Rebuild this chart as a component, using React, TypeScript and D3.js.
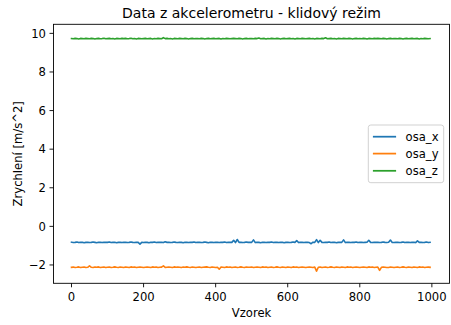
import React from "react";
import * as d3 from "d3";

const sampleStep = 5;

const osaX = [
  -0.82,-0.84,-0.83,-0.81,-0.84,-0.83,-0.82,-0.85,-0.83,-0.82,
  -0.84,-0.83,-0.81,-0.83,-0.85,-0.82,-0.83,-0.84,-0.82,-0.83,
  -0.83,-0.81,-0.84,-0.83,-0.82,-0.85,-0.83,-0.82,-0.84,-0.83,
  -0.82,-0.84,-0.83,-0.81,-0.83,-0.84,-0.82,-0.83,-0.92,-0.83,
  -0.84,-0.82,-0.83,-0.85,-0.82,-0.83,-0.81,-0.84,-0.83,-0.82,
  -0.83,-0.84,-0.80,-0.83,-0.82,-0.84,-0.83,-0.81,-0.83,-0.84,
  -0.82,-0.83,-0.85,-0.82,-0.83,-0.84,-0.82,-0.83,-0.81,-0.84,
  -0.83,-0.82,-0.84,-0.83,-0.81,-0.83,-0.85,-0.82,-0.83,-0.84,
  -0.82,-0.83,-0.84,-0.82,-0.83,-0.81,-0.84,-0.83,-0.82,-0.83,
  -0.72,-0.84,-0.68,-0.83,-0.82,-0.84,-0.83,-0.81,-0.83,-0.82,
  -0.83,-0.70,-0.84,-0.82,-0.83,-0.85,-0.82,-0.83,-0.84,-0.82,
  -0.83,-0.81,-0.84,-0.83,-0.82,-0.84,-0.83,-0.82,-0.85,-0.83,
  -0.82,-0.84,-0.83,-0.81,-0.83,-0.74,-0.84,-0.82,-0.83,-0.84,
  -0.83,-0.82,-0.84,-0.90,-0.82,-0.83,-0.69,-0.84,-0.72,-0.83,
  -0.84,-0.82,-0.83,-0.81,-0.84,-0.83,-0.82,-0.85,-0.83,-0.82,
  -0.83,-0.70,-0.84,-0.82,-0.83,-0.84,-0.82,-0.83,-0.81,-0.84,
  -0.83,-0.82,-0.84,-0.83,-0.82,-0.72,-0.83,-0.84,-0.82,-0.83,
  -0.82,-0.84,-0.83,-0.81,-0.83,-0.84,-0.82,-0.71,-0.83,-0.84,
  -0.83,-0.82,-0.84,-0.83,-0.81,-0.84,-0.83,-0.82,-0.84,-0.83,
  -0.82,-0.84,-0.75,-0.83,-0.82,-0.84,-0.83,-0.81,-0.84,-0.83,
];

const osaY = [
  -2.12,-2.11,-2.13,-2.12,-2.10,-2.13,-2.12,-2.11,-2.13,-2.12,
  -2.04,-2.12,-2.13,-2.11,-2.12,-2.10,-2.13,-2.12,-2.11,-2.13,
  -2.12,-2.11,-2.13,-2.12,-2.10,-2.12,-2.13,-2.11,-2.12,-2.13,
  -2.11,-2.12,-2.13,-2.10,-2.12,-2.11,-2.13,-2.12,-2.11,-2.12,
  -2.13,-2.12,-2.11,-2.12,-2.13,-2.10,-2.12,-2.11,-2.13,-2.12,
  -2.11,-2.05,-2.13,-2.12,-2.11,-2.12,-2.13,-2.10,-2.12,-2.11,
  -2.12,-2.13,-2.11,-2.12,-2.10,-2.12,-2.13,-2.11,-2.12,-2.13,
  -2.12,-2.11,-2.13,-2.12,-2.11,-2.10,-2.12,-2.13,-2.11,-2.12,
  -2.13,-2.12,-2.22,-2.11,-2.12,-2.13,-2.10,-2.12,-2.11,-2.13,
  -2.12,-2.11,-2.13,-2.12,-2.10,-2.12,-2.13,-2.11,-2.12,-2.12,
  -2.11,-2.13,-2.12,-2.11,-2.12,-2.13,-2.10,-2.12,-2.11,-2.13,
  -2.12,-2.11,-2.13,-2.12,-2.10,-2.12,-2.13,-2.11,-2.12,-2.13,
  -2.11,-2.12,-2.13,-2.10,-2.12,-2.11,-2.13,-2.12,-2.11,-2.12,
  -2.13,-2.12,-2.11,-2.12,-2.13,-2.11,-2.32,-2.12,-2.11,-2.13,
  -2.12,-2.11,-2.13,-2.12,-2.10,-2.12,-2.13,-2.11,-2.12,-2.13,
  -2.11,-2.12,-2.13,-2.10,-2.12,-2.11,-2.13,-2.12,-2.11,-2.12,
  -2.13,-2.12,-2.11,-2.12,-2.13,-2.10,-2.12,-2.11,-2.13,-2.12,
  -2.11,-2.28,-2.12,-2.11,-2.12,-2.13,-2.13,-2.11,-2.12,-2.13,
  -2.12,-2.11,-2.13,-2.12,-2.10,-2.12,-2.13,-2.11,-2.12,-2.13,
  -2.11,-2.12,-2.13,-2.10,-2.12,-2.11,-2.13,-2.12,-2.11,-2.12,
];

const osaZ = [
  9.73,9.72,9.74,9.73,9.71,9.74,9.73,9.72,9.74,9.73,
  9.72,9.74,9.73,9.71,9.73,9.74,9.72,9.73,9.75,9.72,
  9.73,9.74,9.72,9.73,9.71,9.74,9.73,9.72,9.74,9.73,
  9.74,9.72,9.73,9.75,9.72,9.73,9.71,9.74,9.73,9.72,
  9.73,9.74,9.72,9.73,9.74,9.71,9.73,9.72,9.74,9.73,
  9.72,9.78,9.73,9.74,9.72,9.73,9.71,9.74,9.73,9.72,
  9.74,9.73,9.72,9.74,9.73,9.71,9.73,9.74,9.72,9.73,
  9.73,9.72,9.74,9.73,9.71,9.73,9.74,9.72,9.73,9.74,
  9.72,9.73,9.74,9.71,9.73,9.72,9.74,9.73,9.72,9.73,
  9.74,9.73,9.72,9.74,9.73,9.71,9.73,9.74,9.72,9.73,
  9.73,9.72,9.74,9.73,9.76,9.72,9.73,9.74,9.71,9.73,
  9.72,9.74,9.73,9.72,9.74,9.73,9.71,9.73,9.74,9.72,
  9.73,9.74,9.72,9.73,9.71,9.74,9.73,9.72,9.74,9.73,
  9.72,9.73,9.74,9.72,9.73,9.71,9.74,9.73,9.72,9.74,
  9.73,9.77,9.72,9.73,9.74,9.72,9.73,9.71,9.74,9.73,
  9.72,9.74,9.73,9.72,9.74,9.73,9.71,9.73,9.74,9.72,
  9.73,9.72,9.74,9.73,9.71,9.74,9.73,9.72,9.74,9.73,
  9.74,9.73,9.72,9.74,9.73,9.71,9.73,9.74,9.72,9.73,
  9.73,9.72,9.74,9.73,9.71,9.73,9.74,9.72,9.73,9.74,
  9.72,9.73,9.74,9.71,9.73,9.72,9.74,9.73,9.72,9.73,
];

const seriesNames = ["osa_x", "osa_y", "osa_z"];
const seriesColors = ["#1f77b4", "#ff7f0e", "#2ca02c"];
const xTicks = [0, 200, 400, 600, 800, 1000];
const yTicks = [-2, 0, 2, 4, 6, 8, 10];
const xDomain = [-49.95, 1048.95];
const yDomain = [-2.95, 10.47];

const W = 451;
const H = 325;
const plot = { left: 53.5, right: 449.5, top: 24.3, bottom: 283.3 };
const FONT = "DejaVu Sans, sans-serif";
const fs = 11.6;

export default function App() {
  const x = d3.scaleLinear().domain(xDomain).range([plot.left, plot.right]);
  const y = d3.scaleLinear().domain(yDomain).range([plot.bottom, plot.top]);
  const allSeries = [osaX, osaY, osaZ];
  const line = d3
    .line<number>()
    .x((_, i) => x(i * sampleStep))
    .y((d) => y(d));

  const legend = { x: 368.3, y: 125, w: 75.4, h: 57.7 };
  const rowY = [136.7, 153.6, 170.8];

  return (
    <svg
      width={W}
      height={H}
      style={{ position: "absolute", left: 0, top: 0, background: "#fff" }}
      fontFamily={FONT}
    >
      <rect x={0} y={0} width={W} height={H} fill="#fff" />
      <defs>
        <clipPath id="plotclip">
          <rect x={plot.left} y={plot.top} width={plot.right - plot.left} height={plot.bottom - plot.top} />
        </clipPath>
      </defs>
      <g clipPath="url(#plotclip)">
        {allSeries.map((s, k) => (
          <path
            key={k}
            d={line(s) || ""}
            fill="none"
            stroke={seriesColors[k]}
            strokeWidth={1.6}
            strokeLinejoin="round"
            strokeLinecap="square"
          />
        ))}
      </g>
      <rect
        x={plot.left}
        y={plot.top}
        width={plot.right - plot.left}
        height={plot.bottom - plot.top}
        fill="none"
        stroke="#000"
        strokeWidth={0.9}
      />
      {xTicks.map((t) => (
        <g key={"x" + t}>
          <line x1={x(t)} x2={x(t)} y1={plot.bottom} y2={plot.bottom + 4} stroke="#000" strokeWidth={0.9} />
          <text x={x(t)} y={301} textAnchor="middle" fontSize={fs} fill="#000">
            {t}
          </text>
        </g>
      ))}
      {yTicks.map((t) => (
        <g key={"y" + t}>
          <line x1={plot.left - 4} x2={plot.left} y1={y(t)} y2={y(t)} stroke="#000" strokeWidth={0.9} />
          <text x={plot.left - 7.5} y={y(t) + 4.2} textAnchor="end" fontSize={fs} fill="#000">
            {t < 0 ? "\u2212" + Math.abs(t) : t}
          </text>
        </g>
      ))}
      <text x={(plot.left + plot.right) / 2} y={18.3} textAnchor="middle" fontSize={14} fill="#000">
        Data z akcelerometru - klidový režim
      </text>
      <text x={(plot.left + plot.right) / 2} y={316.5} textAnchor="middle" fontSize={fs} fill="#000">
        Vzorek
      </text>
      <text
        transform={`translate(21.5, ${(plot.top + plot.bottom) / 2}) rotate(-90)`}
        textAnchor="middle"
        fontSize={fs}
        fill="#000"
      >
        Zrychlení [m/s^2]
      </text>
      <rect
        x={legend.x}
        y={legend.y}
        width={legend.w}
        height={legend.h}
        rx={2.5}
        fill="#fff"
        fillOpacity={0.8}
        stroke="#cccccc"
        strokeWidth={0.9}
      />
      {seriesNames.map((n, k) => (
        <g key={n}>
          <line
            x1={legend.x + 4.6}
            x2={legend.x + 27.8}
            y1={rowY[k]}
            y2={rowY[k]}
            stroke={seriesColors[k]}
            strokeWidth={1.75}
          />
          <text x={legend.x + 37.3} y={rowY[k] + 4.1} fontSize={fs} fill="#000">
            {n}
          </text>
        </g>
      ))}
    </svg>
  );
}
